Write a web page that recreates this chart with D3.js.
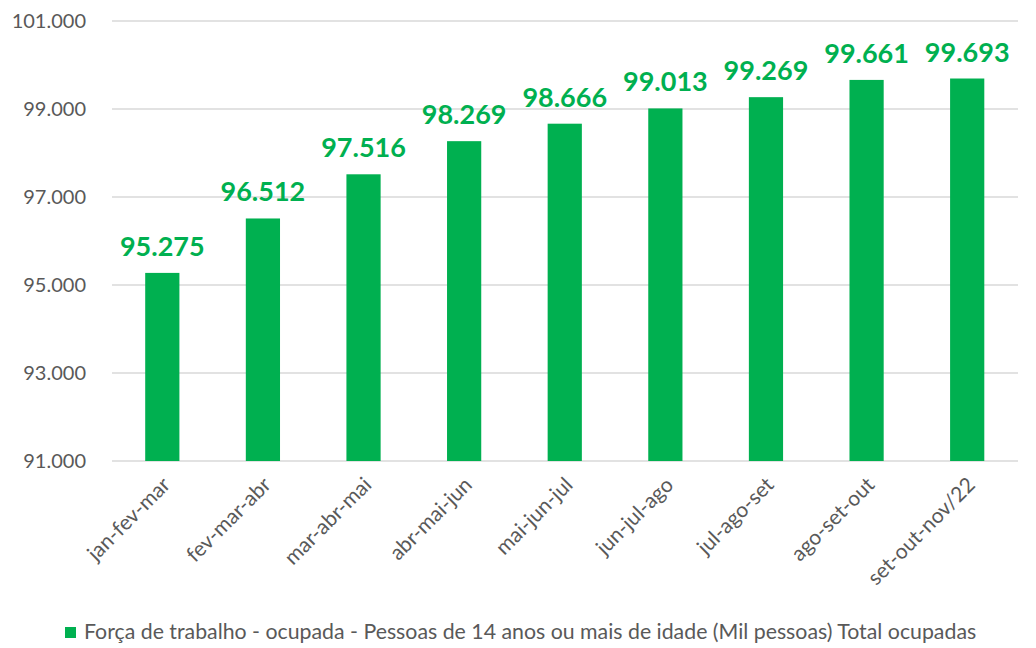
<!DOCTYPE html>
<html>
<head>
<meta charset="utf-8">
<script src="https://cdn.jsdelivr.net/npm/d3@7"></script>
<style>
  html, body { margin: 0; padding: 0; background: #fff; }
  svg { display: block; font-family: Lato, "Open Sans", sans-serif; }
</style>
</head>
<body>
<svg id="chart" width="1036" height="648"></svg>
<script>
// Trimestres móveis
const categories = ["jan-fev-mar", "fev-mar-abr", "mar-abr-mai", "abr-mai-jun", "mai-jun-jul",
                    "jun-jul-ago", "jul-ago-set", "ago-set-out", "set-out-nov/22"];
// Pessoas ocupadas (mil pessoas)
const ocupadas = [95275, 96512, 97516, 98269, 98666, 99013, 99269, 99661, 99693];
const yTicks = [91000, 93000, 95000, 97000, 99000, 101000];
const seriesName = "Força de trabalho - ocupada - Pessoas de 14 anos ou mais de idade (Mil pessoas) Total ocupadas";

const green = "#00B050";
const gray = "#595959";
const fmt = d3.formatLocale({ decimal: ",", thousands: ".", grouping: [3], currency: ["R$", ""] }).format(",.0f");

const svg = d3.select("#chart");
const x = d3.scaleBand().domain(categories).range([112, 1017.5]).paddingInner(0.66).paddingOuter(0.33);
const y = d3.scaleLinear().domain([91000, 101000]).range([461, 21]);

// Horizontal gridlines
svg.append("g")
  .selectAll("line").data(yTicks).join("line")
  .attr("x1", 112).attr("x2", 1018)
  .attr("y1", d => y(d)).attr("y2", d => y(d))
  .attr("stroke", "#d9d9d9").attr("stroke-width", 1.3);

// Y axis labels
const yAxis = d3.axisLeft(y).tickValues(yTicks).tickFormat(fmt).tickSize(0).tickPadding(0);
const gy = svg.append("g").attr("transform", "translate(86,0)").call(yAxis);
gy.select(".domain").remove();
gy.selectAll("text").attr("fill", gray).style("font-size", "20px").style("font-family", "Lato, sans-serif");

// Bars
svg.append("g")
  .selectAll("rect").data(ocupadas).join("rect")
  .attr("x", (d, i) => x(categories[i]))
  .attr("width", x.bandwidth())
  .attr("y", d => y(d))
  .attr("height", d => y(91000) - y(d))
  .attr("fill", green);

// Value labels
svg.append("g")
  .selectAll("text").data(ocupadas).join("text")
  .attr("x", (d, i) => x(categories[i]) + x.bandwidth() / 2)
  .attr("y", d => y(d) - 17)
  .attr("text-anchor", "middle")
  .attr("fill", green)
  .style("font-weight", "bold").style("font-size", "27px")
  .text(d => fmt(d));

// Category labels, rotated
svg.append("g")
  .selectAll("text").data(categories).join("text")
  .attr("transform", d => `translate(${x(d) + x.bandwidth() / 2 + 4},${481}) rotate(-45)`)
  .attr("text-anchor", "end")
  .attr("dy", "0.35em")
  .attr("fill", gray)
  .style("font-size", "21px")
  .text(d => d);

// Legend
const legend = svg.append("g");
legend.append("rect").attr("x", 65).attr("y", 627).attr("width", 11).attr("height", 11).attr("fill", green);
legend.append("text").attr("x", 84).attr("y", 639)
  .attr("fill", gray).style("font-size", "21.3px")
  .text(seriesName);
</script>
</body>
</html>
